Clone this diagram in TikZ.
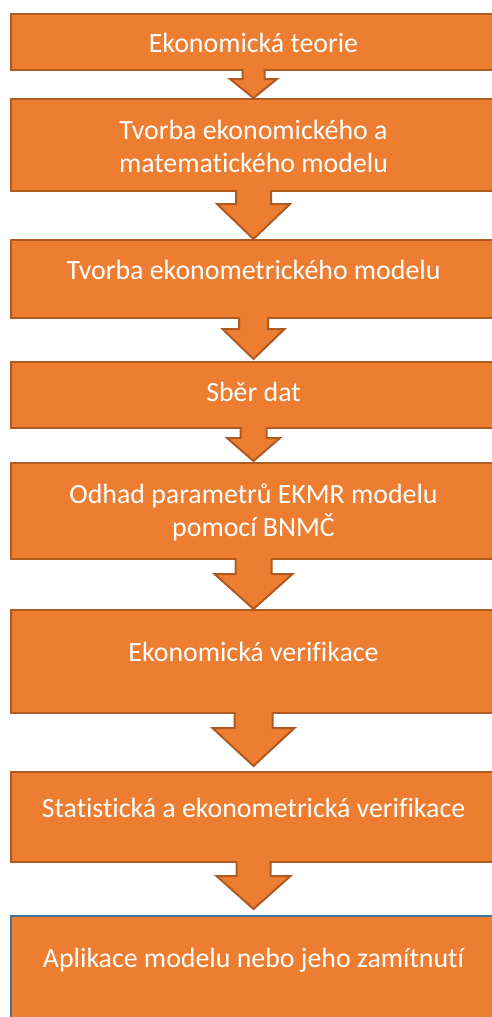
\documentclass[tikz,border=0pt]{standalone}
\usepackage{fontspec}
\setmainfont[Ligatures=NoCommon]{Carlito}
\usepackage{tikz}
\usetikzlibrary{arrows,positioning,calc,shapes}
\definecolor{stepfill}{HTML}{ED7D31}
\definecolor{stepline}{HTML}{AE5A21}
\definecolor{lastline}{HTML}{41719C}
\begin{document}
\begin{tikzpicture}[x=0.75pt, y=-0.75pt,
  stepbox/.style={rectangle, fill=stepfill, draw=stepline, line width=1.5pt, minimum width=364.5pt, minimum height=#1*0.75pt, inner sep=0pt},
  steptext/.style={text=white, anchor=base, align=center, font=\fontsize{20.9}{24.75}\selectfont},
  flowarrow/.style={fill=stepfill, draw=stepline, line width=1.5pt, line join=miter}]
\useasboundingbox (0,0) rectangle (492,1017);
\clip (0,0) rectangle (492,1017);
% the steps
\node[stepbox=56] (b1) at (253.5,42) {};
\node[stepbox=92] (b2) at (253.5,145) {};
\node[stepbox=78] (b3) at (253.5,279) {};
\node[stepbox=66] (b4) at (253.5,395) {};
\node[stepbox=96] (b5) at (253.5,511) {};
\node[stepbox=103] (b6) at (253.5,661.5) {};
\node[stepbox=90] (b7) at (253.5,817) {};
\node[stepbox=114, draw=lastline] (b8) at (253.5,973) {};
% base of a two-line text is its last line
\node[steptext] (t1) at (253.5,52) {Ekonomická teorie};
\node[steptext] (t2) at (253.5,172) {Tvorba ekonomického a\\matematického modelu};
\node[steptext] (t3) at (253.5,279) {Tvorba ekonometrického modelu};
\node[steptext] (t4) at (253.5,401) {Sběr dat};
\node[steptext] (t5) at (253.5,536) {Odhad parametrů EKMR modelu\\pomocí BNMČ};
\node[steptext] (t6) at (253.5,661) {Ekonomická verifikace};
\node[steptext] (t7) at (253.5,817) {Statistická a ekonometrická verifikace};
\node[steptext] (t8) at (253.5,967) {Aplikace modelu nebo jeho zamítnutí};
% block arrows: from/to/shaft/head/base/gap
\foreach \a/\b/\s/\h/\d/\g in {b1/b2/11/23.5/8/0, b2/b3/17.5/36.5/12/0, b3/b4/14.5/31/10/2, b4/b5/13/26.5/9/1, b5/b6/18/39/14/0, b6/b7/19/41/14/5, b7/b8/17/37/13/6}
  \path[flowarrow] ($(\a.south)+(-\s,-2)$) -- ($(\a.south)+(-\s,\d)$) -- ($(\a.south)+(-\h,\d)$) -- ($(\b.north)+(0,-\g)$)
    -- ($(\a.south)+(\h,\d)$) -- ($(\a.south)+(\s,\d)$) -- ($(\a.south)+(\s,-2)$);
\end{tikzpicture}
\end{document}
